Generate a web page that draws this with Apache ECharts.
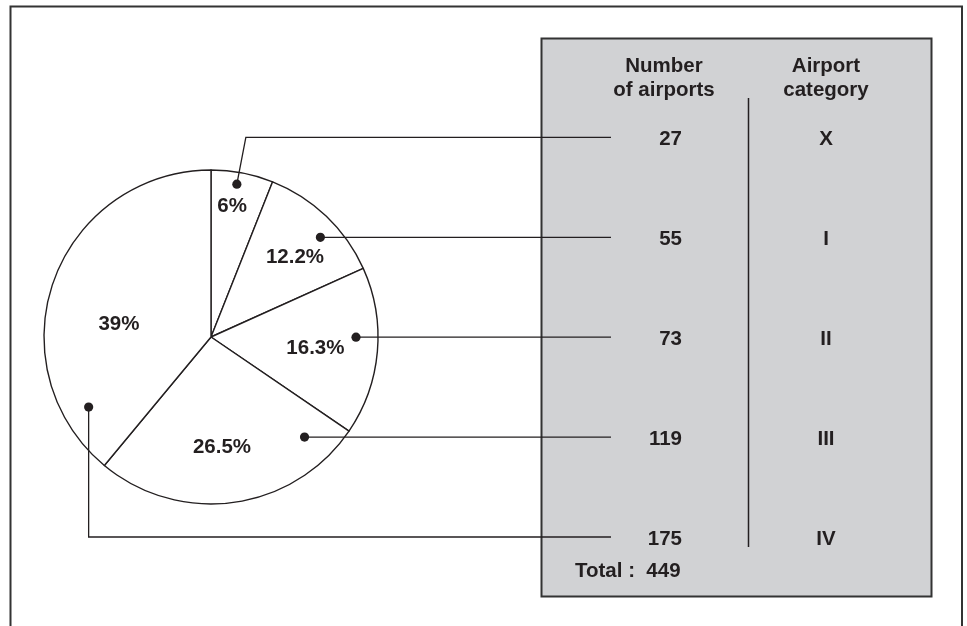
<!DOCTYPE html>
<html>
<head>
<meta charset="utf-8">
<script src="https://cdn.jsdelivr.net/npm/echarts@6/dist/echarts.min.js"></script>
<style>
  html, body { margin: 0; padding: 0; background: #fff; }
  #chart { width: 967px; height: 626px; }
</style>
</head>
<body>
<div id="chart"></div>
<script>
// Airport categories and how many airports fall into each
const categories = ['X', 'I', 'II', 'III', 'IV'];
const airportCounts = [27, 55, 73, 119, 175];
const headerCount = 'Number\nof airports';
const headerCategory = 'Airport\ncategory';
const totalCaption = 'Total :';

// Layout and styling
const INK = '#231f20';
const FONT = '"Liberation Sans", Arial, Helvetica, sans-serif';
const FONT_SIZE = 20.5;
const PIE = { cx: 211, cy: 337, r: 167 };
const TABLE = {
  x: 541.5, y: 38.5, w: 390, h: 558,
  rowTop: 137.4, rowStep: 99.9,
  numRight: 682, catCenter: 826,
  divX: 748.5, divTop: 98, divBottom: 547,
  leaderEnd: 611, headerY: 78, totalX: 575, totalY: 571
};
// Percentage label placement inside each slice: [degrees clockwise from 12 o'clock, radius px]
const labelPolar = [[9.2, 132], [46.4, 116], [96, 105], [174.3, 110.5], [278, 93]];
// Callout dot for each slice and how its leader reaches the table row
const callouts = [
  { route: 'elbow', angle: 9.6, r: 155, elbowDx: 9 },
  { route: 'flat', r: 148 },
  { route: 'flat', r: 145 },
  { route: 'flat', r: 137 },
  { route: 'drop', angle: 240.2, r: 141 }
];

const total = airportCounts.reduce((a, b) => a + b, 0);
const rowY = i => TABLE.rowTop + i * TABLE.rowStep;
const polar = (deg, r) => {
  const a = deg * Math.PI / 180;
  return [PIE.cx + r * Math.sin(a), PIE.cy - r * Math.cos(a)];
};
const pctText = v => {
  const p = Number((v / total * 100).toFixed(1));
  return p + '%';
};
const boldFont = 'bold ' + FONT_SIZE + 'px ' + FONT;

const chart = echarts.init(document.getElementById('chart'));

const graphics = [];
// outer frame (open at the bottom of the view)
graphics.push({
  type: 'rect', z: 0,
  shape: { x: 10.5, y: 6.5, width: 951.5, height: 700 },
  style: { fill: 'none', stroke: '#333', lineWidth: 2 }
});
// grey table panel
graphics.push({
  type: 'rect', z: 0,
  shape: { x: TABLE.x, y: TABLE.y, width: TABLE.w, height: TABLE.h },
  style: { fill: '#d1d2d4', stroke: '#333', lineWidth: 2 }
});
// column divider
graphics.push({
  type: 'line', z: 1,
  shape: { x1: TABLE.divX, y1: TABLE.divTop, x2: TABLE.divX, y2: TABLE.divBottom },
  style: { stroke: INK, lineWidth: 1.5 }
});
// column headers
[[headerCount, 664], [headerCategory, TABLE.catCenter]].forEach(([t, x]) => {
  graphics.push({
    type: 'text', z: 2,
    style: {
      text: t, x: x, y: TABLE.headerY, align: 'center', verticalAlign: 'middle',
      lineHeight: 24, fill: INK, font: boldFont
    }
  });
});
// table rows
airportCounts.forEach((v, i) => {
  graphics.push({
    type: 'text', z: 2,
    style: {
      text: String(v), x: TABLE.numRight, y: rowY(i) + 2, align: 'right', verticalAlign: 'middle',
      fill: INK, font: boldFont
    }
  });
  graphics.push({
    type: 'text', z: 2,
    style: {
      text: categories[i], x: TABLE.catCenter, y: rowY(i) + 2, align: 'center', verticalAlign: 'middle',
      fill: INK, font: boldFont
    }
  });
});
// total
graphics.push({
  type: 'text', z: 2,
  style: {
    text: totalCaption + '  ' + total, x: TABLE.totalX, y: TABLE.totalY, align: 'left', verticalAlign: 'middle',
    fill: INK, font: boldFont
  }
});
// callout dots and leader lines
callouts.forEach((c, i) => {
  const y = rowY(i);
  let dot, pts;
  if (c.route === 'flat') {
    const dy = y - PIE.cy;
    dot = [PIE.cx + Math.sqrt(c.r * c.r - dy * dy), y];
    pts = [dot, [TABLE.leaderEnd, y]];
  } else if (c.route === 'elbow') {
    dot = polar(c.angle, c.r);
    pts = [dot, [dot[0] + c.elbowDx, y], [TABLE.leaderEnd, y]];
  } else {
    dot = polar(c.angle, c.r);
    pts = [dot, [dot[0], y], [TABLE.leaderEnd, y]];
  }
  graphics.push({
    type: 'polyline', z: 10,
    shape: { points: pts },
    style: { stroke: INK, lineWidth: 1.3, fill: null }
  });
  graphics.push({
    type: 'circle', z: 11,
    shape: { cx: dot[0], cy: dot[1], r: 4.6 },
    style: { fill: INK }
  });
});

chart.setOption({
  animation: false,
  backgroundColor: '#fff',
  series: [{
    type: 'pie',
    center: [PIE.cx, PIE.cy],
    radius: PIE.r,
    startAngle: 90,
    clockwise: true,
    avoidLabelOverlap: false,
    silent: true,
    z: 2,
    itemStyle: { color: '#fff', borderColor: INK, borderWidth: 1.4 },
    emphasis: { disabled: true },
    labelLine: { show: false },
    label: {
      show: true,
      position: 'inside',
      formatter: p => pctText(p.value),
      color: INK,
      fontFamily: FONT,
      fontWeight: 'bold',
      fontSize: FONT_SIZE
    },
    labelLayout: params => {
      const [a, r] = labelPolar[params.dataIndex];
      const [x, y] = polar(a, r);
      return { x: x, y: y, align: 'center', verticalAlign: 'middle' };
    },
    data: categories.map((c, i) => ({ name: c, value: airportCounts[i] }))
  }],
  graphic: graphics
});
</script>
</body>
</html>
